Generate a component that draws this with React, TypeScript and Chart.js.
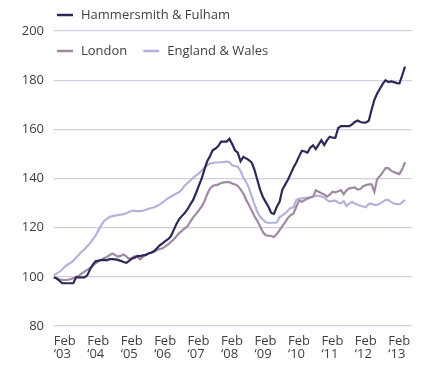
import { useEffect, useRef } from "react";
import { Chart, registerables } from "chart.js";

Chart.register(...registerables);

// Monthly index values, Jan 2003 = 0 (index 100 at start)
const HAMMERSMITH = [
  100, 99.8, 99.4, 98.5, 97.4, 97.4, 97.4, 97.4, 97.4, 99.8, 99.8, 99.8,
  99.8, 100.6, 103, 105, 106.3, 106.6, 106.8, 106.9, 106.7, 107.2, 107.2, 107.1,
  106.9, 106.5, 106, 105.7, 106.5, 107.4, 107.8, 108.5, 108.4, 108.7, 108.9, 109.5,
  109.9, 110.5, 111.6, 112.8, 113.6, 114.5, 115.3, 116.5, 119, 121.5, 123.5, 124.8,
  126, 127.5, 129.5, 131.3, 134, 137, 139.8, 143.5, 146.9, 149, 151.5, 152.2,
  153.2, 155, 155, 155, 156.1, 154, 151.5, 150.5, 147, 148.8, 148.2, 147.5,
  146.5, 143.5, 139.5, 135.5, 132.5, 130.5, 128.5, 126, 125.6, 128.5, 130.5, 135.5,
  137.5, 139.5, 142, 144.5, 146.5, 149, 151.3, 151, 150.5, 152.5, 153.5, 152,
  153.8, 155.6, 153.6, 155.5, 157, 156.6, 156.5, 160.5, 161.3, 161.3, 161.3, 161.3,
  162, 163, 163.6, 163, 162.7, 162.8, 163.5, 168, 172, 174.6, 176.5, 178.5,
  180, 179.2, 179.5, 179.2, 178.8, 178.7, 182, 185.5,
];

const LONDON = [
  100, 99.7, 99.3, 99, 98.8, 98.7, 98.8, 99, 99.4, 99.9, 100.5, 101.3,
  102.1, 102.8, 103.6, 104.4, 105.5, 106.3, 106.9, 107.6, 108.1, 108.8, 109.5, 108.9,
  108.2, 108.5, 109.1, 108.3, 107.3, 107.6, 108.4, 108, 107.1, 108.2, 108.9, 109.6,
  109.7, 110.2, 110.8, 111.3, 111.6, 112.4, 113.2, 114.2, 115.2, 116.5, 117.8, 118.8,
  119.7, 120.6, 122.5, 124.2, 125.5, 127, 128.5, 130.5, 133.5, 135.8, 137, 137.3,
  137.5, 138.2, 138.4, 138.5, 138.5, 138, 137.6, 137, 135.6, 133.9, 131.3, 129.3,
  127, 124.6, 122.8, 120.6, 118.2, 116.9, 116.8, 116.6, 116.2, 117.4, 119, 120.6,
  122.2, 124, 125.1, 125.8, 128.5, 131, 130.5, 131.2, 131.8, 132.3, 132.6, 135.2,
  134.6, 134, 133.5, 132.6, 133.4, 134.6, 134.4, 134.8, 135.3, 133.6, 135.2, 136,
  136.2, 136.4, 135.5, 135.7, 136.9, 137.3, 137.6, 137.6, 134.6, 139.8, 141, 142.5,
  144.2, 144.2, 143.2, 142.6, 142.2, 141.8, 143.8, 146.7,
];

const ENGLAND_WALES = [
  100, 100.7, 101.4, 102, 103, 104.2, 105, 105.6, 106.6, 107.8, 109, 110.2,
  111.2, 112.4, 113.6, 115.2, 116.8, 118.9, 121, 122.6, 123.6, 124.3, 124.7, 124.9,
  125.1, 125.3, 125.5, 125.9, 126.4, 126.8, 126.8, 126.7, 126.7, 126.9, 127.3, 127.7,
  128, 128.3, 128.8, 129.5, 130.3, 131.1, 132, 132.6, 133.3, 133.9, 134.5, 135.6,
  137.2, 138.2, 139.2, 140.4, 141.2, 142.1, 143.1, 144.4, 145.4, 146.1, 146.3, 146.5,
  146.5, 146.6, 146.7, 146.9, 146.6, 145.4, 145.1, 144.8, 143, 140.4, 138.5, 136.2,
  132.7, 129.5, 126.5, 124.4, 123.3, 122.3, 121.9, 122, 122, 122.1, 124.2, 125,
  125.8, 127, 128, 128.3, 131.3, 131.7, 131.9, 132.1, 132.2, 132.4, 132.7, 133,
  132.9, 132.7, 132.3, 131.2, 130.6, 130.9, 131, 130.2, 129.9, 130.8, 128.8, 129.8,
  130.5, 129.8, 129.3, 128.9, 128.6, 128.3, 129.7, 129.8, 129.3, 129.3, 129.8, 130.5,
  131.3, 131.3, 130.5, 129.8, 129.6, 129.6, 130.3, 131.3,
];

const SERIES_LABELS = ["Hammersmith & Fulham", "London", "England & Wales"];
const SERIES_COLORS = ["#2e2858", "#a08aa3", "#b4b2d9"];

// Tick positions (month index of each February) and their labels
const X_TICK_MONTHS = [1, 13, 25, 37, 49, 61, 73, 85, 97, 109, 121];
const X_TICK_LABELS = [
  ["Feb", "‘03"], ["Feb", "‘04"], ["Feb", "‘05"], ["Feb", "‘06"], ["Feb", "‘07"],
  ["Feb", "‘08"], ["Feb", "‘09"], ["Feb", "‘10"], ["Feb", "‘11"], ["Feb", "‘12"], ["Feb", "‘13"],
];
const Y_MIN = 80;
const Y_MAX = 200;
const Y_STEP = 20;

const FONT = '"Open Sans", "Noto Sans", sans-serif';
const TEXT_COLOR = "#3f3f3f";

const legendPlugin = {
  id: "customLegend",
  afterDraw(chart: any) {
    const ctx = chart.ctx;
    const ds = chart.data.datasets;
    ctx.save();
    ctx.font = `13px ${FONT}`;
    ctx.textBaseline = "middle";
    ctx.textAlign = "left";
    const drawItem = (i: number, x: number, y: number) => {
      ctx.strokeStyle = ds[i].borderColor;
      ctx.lineWidth = 2.5;
      ctx.beginPath();
      ctx.moveTo(x, y);
      ctx.lineTo(x + 16, y);
      ctx.stroke();
      ctx.fillStyle = TEXT_COLOR;
      ctx.fillText(ds[i].label, x + 24, y + 0.5);
      return x + 24 + ctx.measureText(ds[i].label).width;
    };
    drawItem(0, 57, 15);
    const end = drawItem(1, 57, 51);
    drawItem(2, end + 16, 51);
    ctx.restore();
  },
};

export default function App() {
  const canvasRef = useRef<HTMLCanvasElement | null>(null);

  useEffect(() => {
    if (!canvasRef.current) return;
    const values = [HAMMERSMITH, LONDON, ENGLAND_WALES];
    const chart = new Chart(canvasRef.current, {
      type: "line",
      data: {
        datasets: values.map((arr, k) => ({
          label: SERIES_LABELS[k],
          data: arr.map((y, i) => ({ x: i, y })),
          borderColor: SERIES_COLORS[k],
          backgroundColor: SERIES_COLORS[k],
          borderWidth: 2.2,
          pointRadius: 0,
          tension: 0,
          clip: false as any,
        })),
      },
      options: {
        animation: false,
        responsive: false,
        events: [],
        layout: { padding: { left: 0, right: 20, top: 31, bottom: 0 } },
        plugins: {
          legend: { display: false },
          tooltip: { enabled: false },
        },
        scales: {
          x: {
            type: "linear",
            min: 1.08,
            max: 129.5,
            grid: { display: false, drawTicks: false },
            border: { display: false },
            afterBuildTicks: (s: any) => {
              s.ticks = X_TICK_MONTHS.map((v) => ({ value: v }));
            },
            afterFit: (s: any) => {
              s.height = 54;
            },
            ticks: {
              autoSkip: false,
              maxRotation: 0,
              minRotation: 0,
              align: "start",
              padding: 8,
              color: TEXT_COLOR,
              font: { family: FONT, size: 13, lineHeight: 1.05 },
              callback: (v: any) => {
                const idx = X_TICK_MONTHS.indexOf(Number(v));
                return idx >= 0 ? X_TICK_LABELS[idx] : "";
              },
            },
          },
          y: {
            min: Y_MIN,
            max: Y_MAX,
            grid: { color: "#d3d0e4", lineWidth: 1.2, drawTicks: false },
            border: { display: false },
            afterFit: (s: any) => {
              s.width = 54;
            },
            ticks: {
              stepSize: Y_STEP,
              padding: 10,
              color: TEXT_COLOR,
              font: { family: FONT, size: 13 },
            },
          },
        },
      },
      plugins: [legendPlugin],
    });
    return () => chart.destroy();
  }, []);

  return (
    <div style={{ position: "fixed", left: 0, top: 0, width: 432, height: 380, background: "#fff" }}>
      <canvas ref={canvasRef} width={432} height={380} style={{ display: "block" }} />
    </div>
  );
}
